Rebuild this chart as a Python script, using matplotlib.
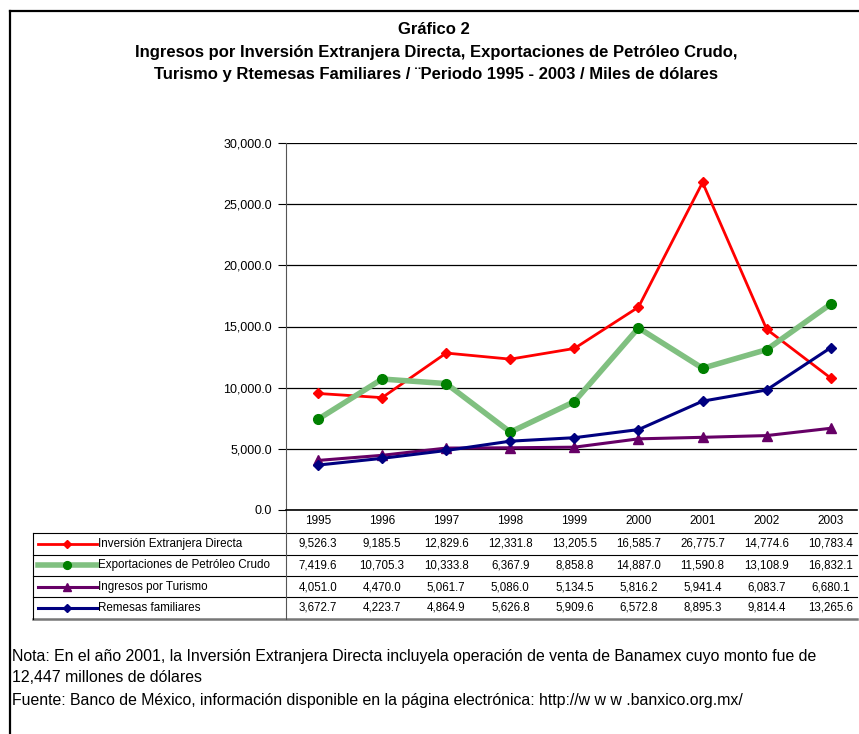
import matplotlib.pyplot as plt
from matplotlib import transforms

plt.rcParams['font.family'] = ['Liberation Sans', 'DejaVu Sans']

years = ['1995', '1996', '1997', '1998', '1999', '2000', '2001', '2002', '2003']
ied = [9526.3, 9185.5, 12829.6, 12331.8, 13205.5, 16585.7, 26775.7, 14774.6, 10783.4]
petroleo = [7419.6, 10705.3, 10333.8, 6367.9, 8858.8, 14887.0, 11590.8, 13108.9, 16832.1]
turismo = [4051.0, 4470.0, 5061.7, 5086.0, 5134.5, 5816.2, 5941.4, 6083.7, 6680.1]
remesas = [3672.7, 4223.7, 4864.9, 5626.8, 5909.6, 6572.8, 8895.3, 9814.4, 13265.6]

names = ['Inversión Extranjera Directa', 'Exportaciones de Petróleo Crudo',
         'Ingresos por Turismo', 'Remesas familiares']
series = [ied, petroleo, turismo, remesas]
styles = [
    dict(color='#FF0000', lw=2.0, marker='D', ms=5.5, mfc='#FF0000', mec='#FF0000'),
    dict(color='#80C080', lw=4.0, marker='o', ms=7, mfc='#008000', mec='#008000'),
    dict(color='#660066', lw=2.2, marker='^', ms=6.5, mfc='#660066', mec='#660066'),
    dict(color='#000080', lw=2.2, marker='D', ms=5.5, mfc='#000080', mec='#000080'),
]

W, H = 859, 734
fig = plt.figure(figsize=(W / 100, H / 100), dpi=100)

# overlay in pixel coordinates for frame, titles, table and notes
ov = fig.add_axes([0, 0, 1, 1])
ov.set_xlim(0, W)
ov.set_ylim(H, 0)
ov.axis('off')

ax = fig.add_axes([286 / W, 1 - 510 / H, (857 - 286) / W, (510 - 143) / H])
x = list(range(len(years)))
for vals, st in zip(series, styles):
    ax.plot(x, vals, **st)
ax.set_xlim(-0.5, 8.41)
ax.set_ylim(0, 30000)
ax.set_yticks(range(0, 30001, 5000))
ax.set_yticklabels([f'{v:,.1f}' for v in range(0, 30001, 5000)], fontsize=9)
ax.set_xticks([])
ax.grid(axis='y', color='black', lw=0.9)
ax.set_axisbelow(True)
for s in ['top', 'right']:
    ax.spines[s].set_visible(False)
ax.spines['left'].set_color('#555555')
ax.spines['bottom'].set_color('black')
ax.spines['bottom'].set_linewidth(1.2)
ax.tick_params(axis='y', direction='out', length=6, color='black', pad=4)

# outer frame
ov.plot([10, 10], [734, 11], color='black', lw=1.6)
ov.plot([10, 859], [11, 11], color='black', lw=1.6)

# titles
tkw = dict(ha='center', va='center', fontsize=12, fontweight='bold')
ov.text(434, 30, 'Gráfico 2', **tkw)
ov.text(436, 52, 'Ingresos por Inversión Extranjera Directa, Exportaciones de Petróleo Crudo,', **tkw)
ov.text(436, 74, 'Turismo y Rtemesas Familiares / ¨Periodo 1995 - 2003 / Miles de dólares', **tkw)

# data table
tr = transforms.blended_transform_factory(ax.transData, ov.transData)
for i, yr in enumerate(years):
    ov.text(i, 521, yr, transform=tr, ha='center', va='center', fontsize=8.5)
row_y = [544, 565, 587, 608]
for r, (nm, vals, st) in enumerate(zip(names, series, styles)):
    yy = row_y[r]
    for i, v in enumerate(vals):
        ov.text(i, yy, f'{v:,.1f}', transform=tr, ha='center', va='center', fontsize=8.3)
    ov.plot([38, 97], [yy, yy], color=st['color'], lw=st['lw'])
    ov.plot([67], [yy], marker=st['marker'], ms=st['ms'] * 0.8, color=st['mfc'], mec=st['mec'])
    ov.text(98, yy, nm, ha='left', va='center', fontsize=8.4)
for ly in [533, 555, 576, 597]:
    ov.plot([33, 857], [ly, ly], color='black', lw=0.8)
ov.plot([33, 857], [619, 619], color='#777777', lw=1.8)
ov.plot([33, 33], [533, 619], color='black', lw=0.8)
ov.plot([285.5, 285.5], [510, 619], color='#555555', lw=0.8)

# notes
nkw = dict(ha='left', va='center', fontsize=11.4)
ov.text(12, 657, 'Nota: En el año 2001, la Inversión Extranjera Directa incluyela operación de venta '
        'de Banamex cuyo monto fue de', **nkw)
ov.text(12, 678, '12,447 millones de dólares', **nkw)
ov.text(12, 700, 'Fuente: Banco de México, información disponible en la página electrónica: '
        'http://w w w .banxico.org.mx/', **nkw)

fig.savefig('out.png', dpi=100)
